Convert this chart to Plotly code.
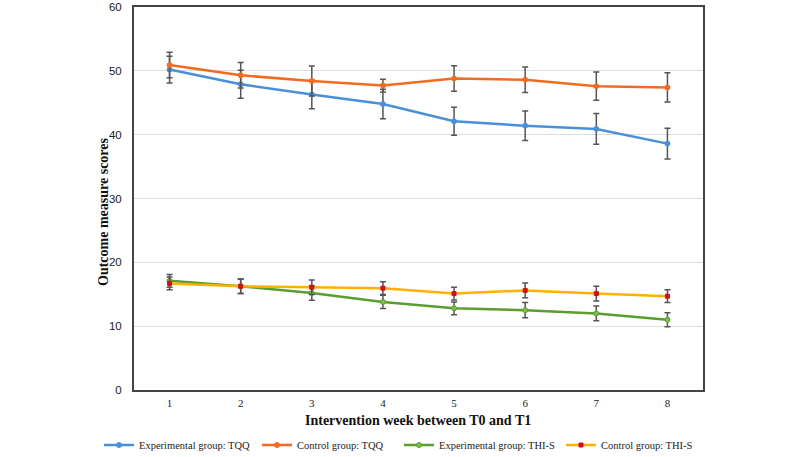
import plotly.graph_objects as go

weeks = [1, 2, 3, 4, 5, 6, 7, 8]

exp_tqq = [50.2, 47.9, 46.3, 44.8, 42.1, 41.4, 40.9, 38.6]
exp_tqq_err = [2.1, 2.2, 2.25, 2.3, 2.2, 2.3, 2.4, 2.4]

ctl_tqq = [50.9, 49.3, 48.4, 47.7, 48.8, 48.6, 47.6, 47.4]
ctl_tqq_err = [2.0, 2.0, 2.35, 1.0, 2.0, 2.0, 2.2, 2.3]

exp_thi = [17.1, 16.25, 15.2, 13.8, 12.8, 12.5, 12.0, 11.0]
exp_thi_err = [1.0, 1.15, 1.15, 1.05, 1.0, 1.2, 1.15, 1.1]

ctl_thi = [16.7, 16.25, 16.1, 15.95, 15.1, 15.6, 15.1, 14.7]
ctl_thi_err = [1.0, 1.15, 1.15, 1.0, 1.0, 1.15, 1.15, 1.0]

names = ["Experimental group: TQQ", "Control group: TQQ",
         "Experimental group: THI-S", "Control group: THI-S"]

x_title = "Intervention week between T0 and T1"
y_title = "Outcome measure scores"

ERR = "#555555"

fig = go.Figure()

def add(y, err, name, lc, mc, msym, msize, mline, lg):
    fig.add_trace(go.Scatter(
        x=weeks, y=y, name=name, mode="lines+markers", legend=lg,
        line=dict(color=lc, width=2.5),
        marker=dict(symbol=msym, size=msize, color=mc, line=dict(color=mline, width=1)),
        error_y=dict(type="data", array=err, visible=True, color=ERR, thickness=1.5, width=3),
    ))

add(exp_tqq, exp_tqq_err, names[0], "#4A90D9", "#4A90D9", "circle", 5, "#4A90D9", "legend")
add(ctl_tqq, ctl_tqq_err, names[1], "#F26B21", "#F26B21", "circle", 5, "#F26B21", "legend2")
add(exp_thi, exp_thi_err, names[2], "#5A9E2F", "#7DBE4E", "circle", 5, "#5A9E2F", "legend3")
add(ctl_thi, ctl_thi_err, names[3], "#FFB000", "#D01010", "square", 4, "#D01010", "legend4")

TOP = 7
BOT = 390
H = BOT - TOP

LEG_FONT = dict(family="Liberation Serif", size=10.5, color="#222222")
def leg(xpix):
    return dict(orientation="h", x=(xpix - 134 - 5) / 569, xanchor="left",
                y=(BOT - 445) / H, yanchor="middle", font=LEG_FONT, itemwidth=30,
                bgcolor="rgba(0,0,0,0)")

fig.update_layout(
    width=800, height=457,
    margin=dict(l=134, r=97, t=TOP, b=457 - BOT, autoexpand=False),
    paper_bgcolor="white", plot_bgcolor="white",
    font=dict(family="Liberation Serif", color="#222222"),
    showlegend=True,
    legend=leg(104), legend2=leg(262), legend3=leg(404), legend4=leg(566),
    xaxis=dict(
        range=[0.5, 8.5], tickmode="array", tickvals=weeks, ticktext=[str(w) for w in weeks],
        showgrid=False, zeroline=False, automargin=False,
        showline=True, linecolor="#444444", linewidth=2, mirror=True,
        ticks="", tickfont=dict(family="Liberation Serif", size=11, color="#222222"),
        ticklabelstandoff=2,
    ),
    yaxis=dict(
        range=[0, 60], tickvals=[0, 10, 20, 30, 40, 50, 60],
        showgrid=True, gridcolor="#DDDDDD", gridwidth=1, zeroline=False, automargin=False,
        showline=True, linecolor="#444444", linewidth=2, mirror=True,
        ticks="", tickfont=dict(family="Liberation Sans", size=11.5, color="#222222"),
        ticklabelstandoff=8, ticklabeloverflow="allow",
    ),
    annotations=[
        dict(text="<b>" + x_title + "</b>", xref="paper", yref="paper",
             x=0.499, y=(BOT - 420) / H, xanchor="center", yanchor="middle",
             showarrow=False, font=dict(family="Liberation Serif", size=14, color="#111111")),
        dict(text="<b>" + y_title + "</b>", xref="paper", yref="paper",
             x=(103 - 134) / 569, y=(BOT - 212) / H, xanchor="center", yanchor="middle",
             textangle=-90, showarrow=False,
             font=dict(family="Liberation Serif", size=14, color="#111111")),
    ],
)

fig.write_html("out.html", config={"displayModeBar": False},
               post_script="document.body.style.margin='0';document.body.style.padding='0';")
